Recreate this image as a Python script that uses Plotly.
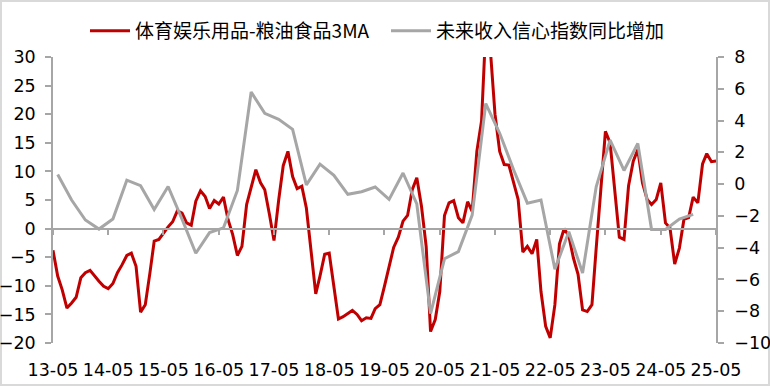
import pandas as pd
import plotly.graph_objects as go

# ---------------- data ----------------
red_name = "体育娱乐用品-粮油食品3MA"
gray_name = "未来收入信心指数同比增加"

red_dates = pd.date_range("2013-05-01", "2025-05-01", freq="MS")
red_values = [
    -3.8, -8.3, -10.7, -13.9, -13.0, -12.0, -8.6, -7.7, -7.3, -8.4, -9.2, -10.1,
    -10.5, -9.6, -7.7, -6.3, -4.7, -4.3, -6.6, -14.6, -13.3, -7.7, -2.2, -1.9,
    -0.8, 0.3, 1.2, 3.1, 2.7, 1.0, 0.6, 4.8, 6.6, 5.6, 3.5, 4.9,
    4.3, 5.5, 1.6, -1.05, -4.7, -3.1, 4.2, 7.1, 10.3, 8.0, 6.8, 2.45,
    -2.1, 5.0, 11.0, 13.5, 9.1, 7.0, 7.4, 3.6, -4.0, -11.4, -8.3, -4.5,
    -4.3, -10.4, -15.8, -15.4, -14.9, -14.3, -15.0, -16.1, -15.6, -15.7, -14.0, -13.3,
    -10.1, -6.9, -3.3, -1.5, 1.3, 2.3, 6.8, 8.9, 3.9, -3.1, -18.0, -15.9,
    -11.0, 2.3, 4.5, 4.9, 1.9, 1.0, 4.7, 3.0, 13.5, 18.8, 35.0, 31.0,
    20.0, 13.5, 11.2, 11.1, 8.0, 5.1, -4.1, -3.1, -4.4, -1.9, -11.0, -17.1,
    -19.1, -13.3, -2.7, 0.0, -1.3, -5.1, -8.0, -14.2, -14.5, -13.3, -3.4, 7.1,
    17.0, 15.0, 7.1, -1.5, -1.9, 7.5, 11.8, 13.8, 8.0, 5.1, 4.2, 5.1,
    8.0, 1.0, 0.1, -6.2, -3.4, 1.6, 1.9, 5.5, 4.5, 11.3, 13.1, 11.7,
    11.8,
]

gray_dates = pd.date_range("2013-06-01", "2024-12-01", freq="3MS")
gray_values = [
    0.6, -1.0, -2.26, -2.83, -2.2, 0.25, -0.1, -1.6, -0.15, -2.2, -4.35, -3.05,
    -2.75, -0.4, 5.8, 4.45, 4.08, 3.45, -0.05, 1.26, 0.55, -0.64, -0.48, -0.18,
    -0.96, 0.7, -1.25, -8.15, -4.7, -4.25, -1.95, 5.07, 3.2, 0.9, -1.2, -1.0,
    -5.35, -3.0, -5.6, -0.17, 2.77, 0.86, 2.56, -2.85, -2.85, -2.2, -1.9,
]

x_start, x_end = "2013-05-01", "2025-05-01"
left_range, left_dtick = [-20, 30], 5
right_range, right_dtick = [-10, 8], 2

# ---------------- style ----------------
RED = "#c00000"
GRAY = "#a6a6a6"
AXIS = "#a6a6a6"
FONT = "Noto Sans CJK SC, Noto Sans, sans-serif"
TICK_FONT = "DejaVu Sans, sans-serif"

W, H = 770, 386
ml, mr, mt, mb = 53, 54, 57, 43

fig = go.Figure()
fig.add_trace(go.Scatter(
    x=red_dates, y=red_values, name=red_name, mode="lines",
    line=dict(color=RED, width=3), yaxis="y", xaxis="x",
))
fig.add_trace(go.Scatter(
    x=gray_dates, y=gray_values, name=gray_name, mode="lines",
    line=dict(color=GRAY, width=3), yaxis="y2", xaxis="x",
))
# helper trace so the zero-line axis (x2) is drawn
fig.add_trace(go.Scatter(
    x=[x_start], y=[None], xaxis="x2", yaxis="y", showlegend=False,
    hoverinfo="skip", mode="lines",
))

zero_frac = (0 - left_range[0]) / (left_range[1] - left_range[0])

tick_font = dict(family=TICK_FONT, size=17.5, color="black")

fig.update_layout(
    width=W, height=H,
    margin=dict(l=ml, r=mr, t=mt, b=mb, autoexpand=False),
    paper_bgcolor="white", plot_bgcolor="white",
    font=dict(family=FONT, size=17, color="black"),
    showlegend=True,
    legend=dict(
        orientation="h", xref="container", yref="container",
        x=85 / W, xanchor="left", y=1 - 31 / H, yanchor="middle",
        font=dict(family=FONT, size=19, color="black"),
        bgcolor="rgba(0,0,0,0)", itemwidth=40, tracegroupgap=0,
        entrywidth=246, entrywidthmode="pixels",
    ),
    xaxis=dict(
        type="date", range=[x_start, x_end], automargin=False,
        tick0=x_start, dtick="M12", tickformat="%y-%m",
        showgrid=False, zeroline=False, showline=False,
        ticks="", ticklabelstandoff=14,
        tickfont=tick_font,
    ),
    xaxis2=dict(
        type="date", matches="x", overlaying="x", anchor="free", position=zero_frac,
        tick0=x_start, dtick="M12", automargin=False,
        showgrid=False, zeroline=False, showline=True, linecolor=AXIS, linewidth=2,
        ticks="outside", ticklen=5, tickwidth=1.5, tickcolor=AXIS,
        showticklabels=False,
    ),
    yaxis=dict(
        range=left_range, dtick=left_dtick, automargin=False,
        showgrid=False, zeroline=False,
        showline=True, linecolor=AXIS, linewidth=1.5,
        ticks="outside", ticklen=6, tickwidth=1.5, tickcolor=AXIS,
        ticklabelstandoff=6,
        tickfont=tick_font,
    ),
    yaxis2=dict(
        range=right_range, dtick=right_dtick, overlaying="y", side="right",
        automargin=False,
        showgrid=False, zeroline=False,
        showline=True, linecolor=AXIS, linewidth=1.5,
        ticks="outside", ticklen=6, tickwidth=1.5, tickcolor=AXIS,
        ticklabelstandoff=7,
        tickfont=tick_font,
    ),
)

pw = W - ml - mr
ph = H - mt - mb
fig.add_shape(
    type="rect", xref="paper", yref="paper",
    x0=(-ml + 1) / pw, x1=(W - ml - 1) / pw,
    y0=(-mb + 1) / ph, y1=(H - mb - 1) / ph,
    line=dict(color="#d9d9d9", width=2), layer="below",
)

fig.write_html(
    "out.html",
    config={"displayModeBar": False},
    post_script="document.body.style.margin='0';document.body.style.overflow='hidden';",
)
